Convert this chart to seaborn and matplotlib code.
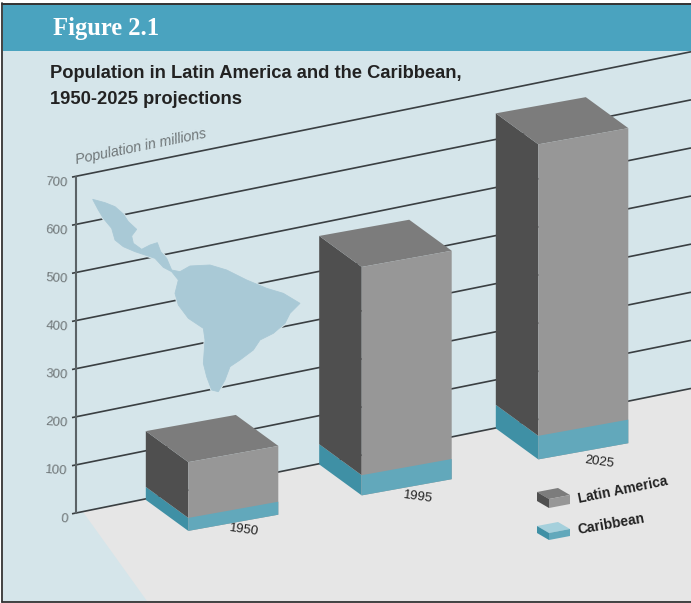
import numpy as np
import pandas as pd
import matplotlib
matplotlib.use("Agg")
import matplotlib.pyplot as plt
from matplotlib.patches import Polygon, Rectangle
from matplotlib.transforms import Affine2D
import seaborn as sns

# ---- data (millions) ----
years = ["1950", "1995", "2025"]
latin_america = [116, 433, 606]
caribbean = [27, 42, 49]
y_ticks = [0, 100, 200, 300, 400, 500, 600, 700]
title = "Figure 2.1"
subtitle = ["Population in Latin America and the Caribbean,", "1950-2025 projections"]
y_label = "Population in millions"
legend_labels = ["Latin America", "Caribbean"]

# ---- layout (pixels) ----
W, H = 691, 603
PX_PER_UNIT = 48.1 / 100
WALL_X, WALL_Y0, WALL_SLOPE = 76, 513.3, -0.203
BAR_CX = [233.3, 406.7, 583.3]
BAR_BASE = [522.8, 487.3, 451.3]
BAR_W, BAR_UNITS, FRONT_SLOPE = 90, 0.8, -0.18
DEPTH = (-42.5, -31)
LABEL_DX = [11, 11, 16]
LABEL_DY = [7, 10, 11]

WALL, FLOOR, HEADER = "#d5e5ea", "#e6e6e6", "#4aa3bf"
FRONT, SIDE, TOP = "#979797", "#4f4f4f", "#7c7c7c"
C_FRONT, C_SIDE, C_TOP = "#62a8bb", "#3f90a5", "#a5d0dc"
MAP = "#a9c9d6"
GRAY_TXT = "#6f7678"

sns.set_theme(style="white")
plt.rcParams["font.family"] = ["Liberation Sans", "DejaVu Sans"]

fig = plt.figure(figsize=(W / 100, H / 100), dpi=100, facecolor="white")
canvas = fig.add_axes([0, 0, 1, 1], zorder=0)
canvas.set_xlim(0, W)
canvas.set_ylim(H, 0)
canvas.axis("off")
ax = fig.add_axes([0, 0, 1, 1], zorder=1)
ax.patch.set_alpha(0)


def wall(x, v):
    return x, WALL_Y0 - PX_PER_UNIT * v + WALL_SLOPE * (x - WALL_X)


def bar_matrix(i):
    k = BAR_W / BAR_UNITS
    return np.array([[k, 0, BAR_CX[i] - k * i],
                     [FRONT_SLOPE * k, -PX_PER_UNIT, BAR_BASE[i] - FRONT_SLOPE * k * i],
                     [0, 0, 1]])


def pt(i, x, v, back=False):
    p = bar_matrix(i) @ np.array([x, v, 1.0])
    return (p[0] + DEPTH[0], p[1] + DEPTH[1]) if back else (p[0], p[1])


# panel background and floor
canvas.add_patch(Rectangle((3, 4), W - 3, 598, fc=WALL, ec="none", zorder=0))
floor = [wall(WALL_X + 7, 0), wall(W, 0), (W, 601), (147, 601)]
canvas.add_patch(Polygon(floor, fc=FLOOR, ec="none", zorder=0.5))

# back-wall gridlines and value axis
for v in y_ticks:
    x0, y0 = wall(WALL_X, v)
    x1, y1 = wall(W, v)
    canvas.plot([x0 - 4, x1], [y0 + 0.5, y1], color="#3a3f42", lw=1.2, zorder=1, solid_capstyle="butt")
    canvas.text(68, y0 + 6, str(v), ha="right", va="center", fontsize=9.5, color=GRAY_TXT,
                rotation=-4, zorder=6)
canvas.plot([WALL_X, WALL_X], [wall(WALL_X, 700)[1], wall(WALL_X, 0)[1]], color="#5b6366", lw=1.5, zorder=1.2)
canvas.text(77, 167, y_label, ha="left", va="bottom", rotation=11.5, rotation_mode="anchor",
            fontsize=10.3, color=GRAY_TXT, style="italic", zorder=6)

# map silhouette (illustration, traced outline)
map_trace = [(68, 28), (105, 38), (135, 50), (160, 72), (175, 95), (200, 118), (185, 138), (190, 160),
             (215, 178), (240, 165), (262, 158), (272, 185), (290, 205), (305, 240), (330, 245), (360, 228),
             (420, 225), (470, 240), (530, 270), (590, 295), (640, 310), (690, 340), (660, 370), (645, 400),
             (610, 430), (570, 450), (550, 480), (510, 510), (480, 530), (465, 570), (445, 605), (425, 600),
             (410, 560), (400, 520), (405, 450), (400, 415), (355, 385), (325, 345), (315, 310), (325, 270),
             (305, 245), (280, 232), (255, 205), (225, 195), (195, 185), (160, 170), (135, 150), (125, 115),
             (100, 85), (85, 60)]
map_px = [(70 + x / 3, 190 + y / 3) for x, y in map_trace]
canvas.add_patch(Polygon(map_px, fc=MAP, ec=WALL, lw=2.0, joinstyle="round", zorder=2))
canvas.add_patch(Polygon(map_px, fc=MAP, ec=MAP, lw=0.6, zorder=2.1))

# bars: front faces through seaborn
df = pd.DataFrame({"year": years, "latin": latin_america, "carib": caribbean})
df["total"] = df["latin"] + df["carib"]
sns.barplot(data=df, x="year", y="total", color=FRONT, saturation=1, width=BAR_UNITS, ax=ax, zorder=4)
sns.barplot(data=df, x="year", y="carib", color=C_FRONT, saturation=1, width=BAR_UNITS, ax=ax, zorder=4.5)
for j, patch in enumerate(ax.patches):
    i = j % len(years)
    patch.set_transform(Affine2D(bar_matrix(i)) + canvas.transData)
    patch.set_clip_on(False)
    patch.set_edgecolor("none")
ax.axis("off")

# side and top faces, year labels
for i in range(len(years)):
    l, r = i - BAR_UNITS / 2, i + BAR_UNITS / 2
    c, t = df["carib"][i], df["total"][i]
    canvas.add_patch(Polygon([pt(i, l, 0), pt(i, l, c), pt(i, l, c, True), pt(i, l, 0, True)],
                             fc=C_SIDE, ec="none", zorder=3))
    canvas.add_patch(Polygon([pt(i, l, c), pt(i, l, t), pt(i, l, t, True), pt(i, l, c, True)],
                             fc=SIDE, ec="none", zorder=3))
    canvas.add_patch(Polygon([pt(i, l, t), pt(i, r, t), pt(i, r, t, True), pt(i, l, t, True)],
                             fc=TOP, ec="none", zorder=3))
    canvas.text(BAR_CX[i] + LABEL_DX[i], BAR_BASE[i] + LABEL_DY[i], years[i], ha="center", va="center",
                fontsize=9.5, color="#222222", rotation=-8, zorder=6)


# legend swatches
def swatch(x, y, h, side, front, top):
    a = (x, y)
    b = (x + 21, y - 4)
    c = (x + 33, y + 3)
    d = (x + 12, y + 7)
    canvas.add_patch(Polygon([a, b, c, d], fc=top, ec="none", zorder=5))
    canvas.add_patch(Polygon([a, d, (d[0], d[1] + h), (a[0], a[1] + h)], fc=side, ec="none", zorder=5))
    canvas.add_patch(Polygon([d, c, (c[0], c[1] + h), (d[0], d[1] + h)], fc=front, ec="none", zorder=5))


swatch(537, 492, 9, SIDE, FRONT, TOP)
swatch(537, 526, 7, C_SIDE, C_FRONT, C_TOP)
canvas.text(578, 499, legend_labels[0], ha="left", va="center", rotation=11.5, rotation_mode="anchor",
            fontsize=10, fontweight="bold", color="#222222", zorder=6)
canvas.text(578, 530, legend_labels[1], ha="left", va="center", rotation=10, rotation_mode="anchor",
            fontsize=10, fontweight="bold", color="#222222", zorder=6)

# header band, frame, titles (over the gridlines)
canvas.add_patch(Rectangle((3, 4.5), W - 3, 46.5, fc=HEADER, ec="none", zorder=7))
canvas.plot([2.5, W], [3.5, 3.5], color="#222222", lw=1.3, zorder=8)
canvas.plot([2.5, 2.5], [3, 602], color="#333333", lw=1.3, zorder=8)
canvas.plot([2.5, W], [601.7, 601.7], color="#333333", lw=1.3, zorder=8)
canvas.text(53, 35, title, ha="left", va="baseline", family=["Liberation Serif", "DejaVu Serif"],
            fontweight="bold", fontsize=17.7, color="white", zorder=9)
canvas.text(50, 73, subtitle[0], ha="left", va="center", fontweight="bold", fontsize=13.25,
            color="#222222", zorder=9)
canvas.text(50, 100, subtitle[1], ha="left", va="center", fontweight="bold", fontsize=13.25,
            color="#222222", zorder=9)

fig.savefig("out.png", dpi=100)
